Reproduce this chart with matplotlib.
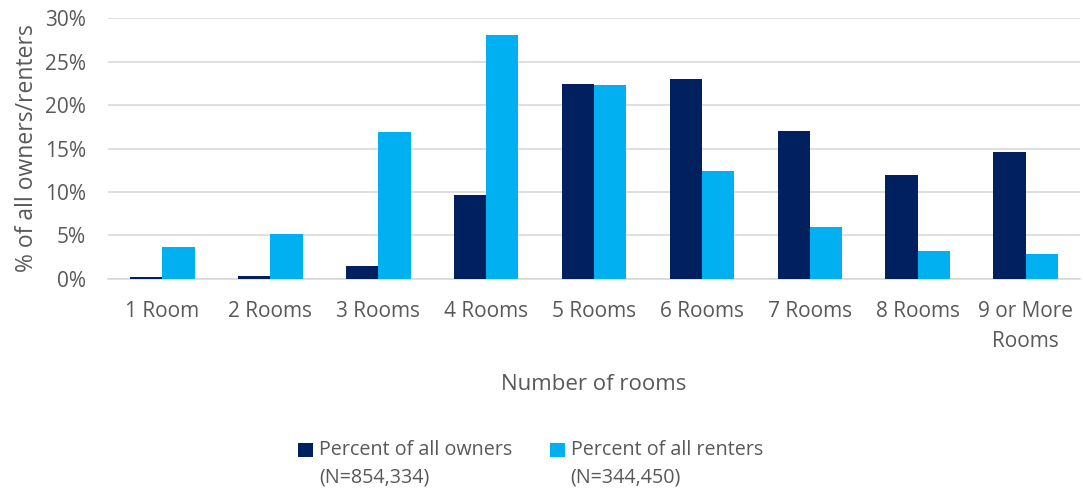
import matplotlib.pyplot as plt
from matplotlib.container import BarContainer
from matplotlib.legend_handler import HandlerPatch, update_from_first_child
from matplotlib.patches import Rectangle
import numpy as np

# Data
categories = ["1 Room", "2 Rooms", "3 Rooms", "4 Rooms", "5 Rooms",
              "6 Rooms", "7 Rooms", "8 Rooms", "9 or More\nRooms"]
owners = [0.2, 0.3, 1.5, 9.7, 22.4, 23.0, 17.0, 12.0, 14.6]
renters = [3.7, 5.2, 16.9, 28.1, 22.3, 12.4, 6.0, 3.2, 2.9]
owners_label = "Percent of all owners\n(N=854,334)"
renters_label = "Percent of all renters\n(N=344,450)"

plt.rcParams['font.family'] = ['Open Sans', 'DejaVu Sans']
text_color = '#595959'


def top_square(legend, orig_handle, xdescent, ydescent, width, height, fontsize):
    # square next to the first line of a two-line label
    return Rectangle((-xdescent, -ydescent + 0.75 * fontsize), width, height)


fig = plt.figure(figsize=(10.83, 4.91), dpi=100)
ax = fig.add_axes([0.1, 0.432, 0.897, 0.531])

x = np.arange(len(categories))
w = 0.3
ax.bar(x - w / 2, owners, w, color='#002060', label=owners_label, zorder=3)
ax.bar(x + w / 2, renters, w, color='#00B0F0', label=renters_label, zorder=3)

ax.set_xlim(-0.5, len(categories) - 0.5)
ax.set_ylim(0, 30)
ax.set_yticks(range(0, 31, 5))
ax.set_yticklabels([f"{v}%" for v in range(0, 31, 5)])
ax.set_xticks(x)
ax.set_xticklabels(categories, linespacing=1.55)

ax.yaxis.grid(True, color='#d9d9d9', linewidth=1.2, zorder=0)
for side in ['top', 'right', 'left']:
    ax.spines[side].set_visible(False)
ax.spines['bottom'].set_color('#d9d9d9')
ax.spines['bottom'].set_linewidth(1.2)
ax.tick_params(axis='both', length=0, labelsize=15, colors=text_color)
ax.tick_params(axis='x', pad=16)
ax.tick_params(axis='y', pad=16)

ax.set_ylabel("% of all owners/renters", fontsize=16.5, color=text_color, labelpad=4)
ax.set_xlabel("Number of rooms", fontsize=16, color=text_color, labelpad=16)

leg = fig.legend(loc='lower center', bbox_to_anchor=(0.49, -0.03), ncol=2, frameon=False,
                 fontsize=14.2, labelcolor=text_color, handlelength=0.75, handleheight=0.75,
                 handletextpad=0.3, columnspacing=1.9,
                 handler_map={BarContainer: HandlerPatch(patch_func=top_square,
                                                         update_func=update_from_first_child)})
for t in leg.get_texts():
    t.set_linespacing(1.5)

plt.savefig("out.png", dpi=100)
